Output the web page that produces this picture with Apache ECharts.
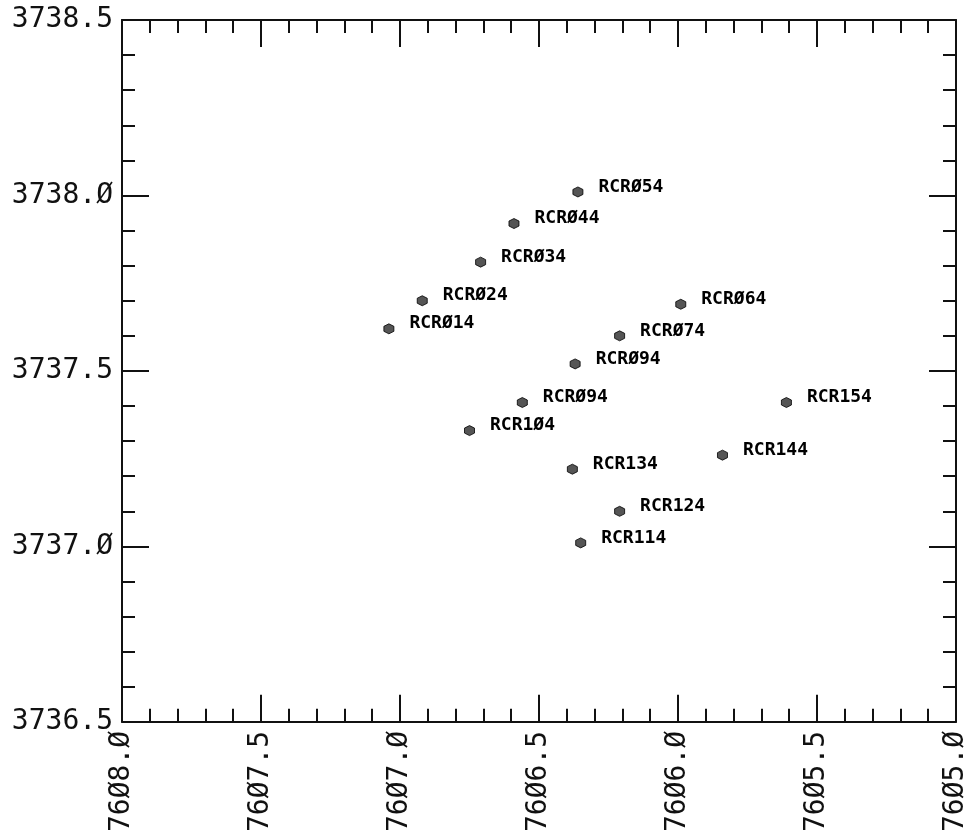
<!DOCTYPE html>
<html>
<head>
<meta charset="utf-8">
<script src="https://cdn.jsdelivr.net/npm/echarts@6/dist/echarts.min.js"></script>
<style>html,body{margin:0;padding:0;background:#fff}#c{width:974px;height:835px}</style>
</head>
<body>
<div id="c"></div>
<script>
const stationNames = ["RCR014","RCR024","RCR034","RCR044","RCR054","RCR064","RCR074","RCR084","RCR094","RCR104","RCR114","RCR124","RCR134","RCR144","RCR154"];
const stationLabels = ["RCRØ14","RCRØ24","RCRØ34","RCRØ44","RCRØ54","RCRØ64","RCRØ74","RCRØ94","RCRØ94","RCR1Ø4","RCR114","RCR124","RCR134","RCR144","RCR154"];
const xValues = [7607.04,7606.92,7606.71,7606.59,7606.36,7605.99,7606.21,7606.37,7606.56,7606.75,7606.35,7606.21,7606.38,7605.84,7605.61];
const yValues = [3737.62,3737.70,3737.81,3737.92,3738.01,3737.69,3737.60,3737.52,3737.41,3737.33,3737.01,3737.10,3737.22,3737.26,3737.41];
const xMin = 7605.0, xMax = 7608.0, xStep = 0.5;
const yMin = 3736.5, yMax = 3738.5, yStep = 0.5;

const slash = v => v.toFixed(1).replace(/0/g, 'Ø');
const fontFam = '"DejaVu Sans Mono", monospace';
const ink = '#111';

const baseAxis = {
  type: 'value',
  axisLine: { show: true, onZero: false, lineStyle: { color: ink, width: 2 } },
  axisTick: { show: true, inside: true, length: 27, lineStyle: { color: ink, width: 2 } },
  minorTick: { show: true, splitNumber: 5, length: 13, lineStyle: { color: ink, width: 2 } },
  splitLine: { show: false },
  minorSplitLine: { show: false }
};

const data = stationNames.map((n, i) => ({ name: stationLabels[i], value: [xValues[i], yValues[i]] }));

const chart = echarts.init(document.getElementById('c'));
chart.setOption({
  backgroundColor: '#fff',
  animation: false,
  grid: { left: 122, right: 18, top: 20, bottom: 113 },
  xAxis: [
    Object.assign({}, baseAxis, {
      position: 'bottom', min: xMin, max: xMax, interval: xStep, inverse: true,
      axisLabel: { rotate: 90, margin: 9, formatter: slash, color: ink, fontSize: 28, fontFamily: fontFam }
    }),
    Object.assign({}, baseAxis, {
      position: 'top', min: xMin, max: xMax, interval: xStep, inverse: true,
      axisLabel: { show: false }
    })
  ],
  yAxis: [
    Object.assign({}, baseAxis, {
      position: 'left', min: yMin, max: yMax, interval: yStep,
      axisLabel: { margin: 9, formatter: slash, color: ink, fontSize: 28, fontFamily: fontFam }
    }),
    Object.assign({}, baseAxis, {
      position: 'right', min: yMin, max: yMax, interval: yStep,
      axisLabel: { show: false }
    })
  ],
  series: [{
    type: 'scatter',
    xAxisIndex: 0, yAxisIndex: 0,
    symbol: 'path://M0,-10 L8.66,-5 L8.66,5 L0,10 L-8.66,5 L-8.66,-5 Z',
    symbolSize: 10,
    itemStyle: { color: '#2a2a2a', borderColor: '#000', borderWidth: 1 },
    label: {
      show: true, position: 'right', distance: 15, offset: [0, -5],
      formatter: p => p.name,
      color: '#000', opacity: 1, fontSize: 18, fontWeight: 'bold', fontFamily: fontFam
    },
    data: data
  }]
});
</script>
</body>
</html>
